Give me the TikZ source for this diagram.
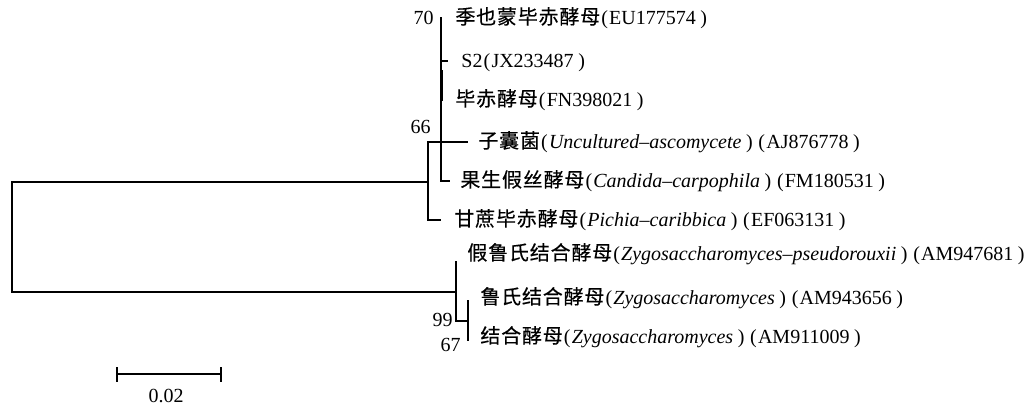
\documentclass[tikz,border=0pt]{standalone}
\usepackage{fontspec}
\setmainfont{Liberation Serif}
\newfontfamily\cjk[LetterSpace=4,FakeBold=0.4]{Noto Sans CJK SC}
\newcommand\lp{\makebox[0.45em][c]{(}}
\newcommand\rp{\makebox[0.79em][c]{)}}
\begin{document}
\begin{tikzpicture}[x=0.5pt,y=-0.5pt,
  br/.style={line width=0.6pt,line cap=rect},
  tip/.style={anchor=west,inner sep=0pt,font=\fontsize{10}{12}\selectfont,text height=0.8em,text depth=0.2em},
  boot/.style={anchor=east,inner sep=0pt,font=\fontsize{10}{12}\selectfont}]
\useasboundingbox (0,0) rectangle (1033,404);
% coordinates of internal nodes
\coordinate (root1) at (12,182);
\coordinate (root2) at (12,292);
\coordinate (nA1) at (428,142);
\coordinate (nA2) at (428,220);
\coordinate (nB1) at (441,18);
\coordinate (nB2) at (441,181);
\coordinate (nS) at (441,61);
\coordinate (nC1) at (442,70);
\coordinate (nC2) at (442,101);
\coordinate (nD1) at (456,262);
\coordinate (nD2) at (456,321);
\coordinate (nE1) at (468,301);
\coordinate (nE2) at (468,340);
% tips
\coordinate (tS) at (447,61);
\coordinate (tU) at (467,142);
\coordinate (tC) at (449,181);
\coordinate (tP) at (440,220);
% labels
\node[tip] (l1) at (455,18) {{\cjk 季也蒙毕赤酵母}\lp EU177574\rp};
\node[tip] (l2) at (461,61) {S2\lp JX233487\rp};
\node[tip] (l3) at (455,100) {{\cjk 毕赤酵母}\lp FN398021\rp};
\node[tip] (l4) at (478,142) {{\cjk 子囊菌}\lp\textit{Uncultured–ascomycete}\rp\lp AJ876778\rp};
\node[tip] (l5) at (460,181) {{\cjk 果生假丝酵母}\lp\textit{Candida–carpophila}\rp\lp FM180531\rp};
\node[tip] (l6) at (454,220) {{\cjk 甘蔗毕赤酵母}\lp\textit{Pichia–caribbica}\rp\lp EF063131\rp};
\node[tip] (l7) at (467,254) {{\cjk 假鲁氏结合酵母}\lp\textit{Zygosaccharomyces–pseudorouxii}\rp\lp AM947681\rp};
\node[tip] (l8) at (480,298) {{\cjk 鲁氏结合酵母}\lp\textit{Zygosaccharomyces}\rp\lp AM943656\rp};
\node[tip] (l9) at (480,337) {{\cjk 结合酵母}\lp\textit{Zygosaccharomyces}\rp\lp AM911009\rp};
% bootstrap
\node[boot] (b70) at (434,18) {70};
\node[boot] (b66) at (431,127) {66};
\node[boot] (b99) at (453,320) {99};
\node[boot] (b67) at (461,345) {67};
% branches
\draw[br] (root1 -| nA1) -- (root1) -- (root2) -- (root2 -| nD1);
\draw[br] (nA1) -- (tU);
\draw[br] (nA1) -- (nA2) -- (tP);
\draw[br] (nB1) -- (nB2) -- (tC);
\draw[br] (nS) -- (tS);
\draw[line width=0.9pt] (nC1) -- (nC2);
\draw[br] (nD1) -- (nD2) -- (nD2 -| nE1);
\draw[br] (nE1) -- (nE2);
% scale bar
\coordinate (s1) at (117,374);
\coordinate (s2) at (221,374);
\draw[br] (s1) -- (s2);
\draw[br] ([yshift=3pt]s1) -- ([yshift=-3.5pt]s1);
\draw[br] ([yshift=3pt]s2) -- ([yshift=-3.5pt]s2);
\node[font=\fontsize{10}{12}\selectfont,inner sep=0pt] (sc) at (166,396) {0.02};
\end{tikzpicture}
\end{document}
